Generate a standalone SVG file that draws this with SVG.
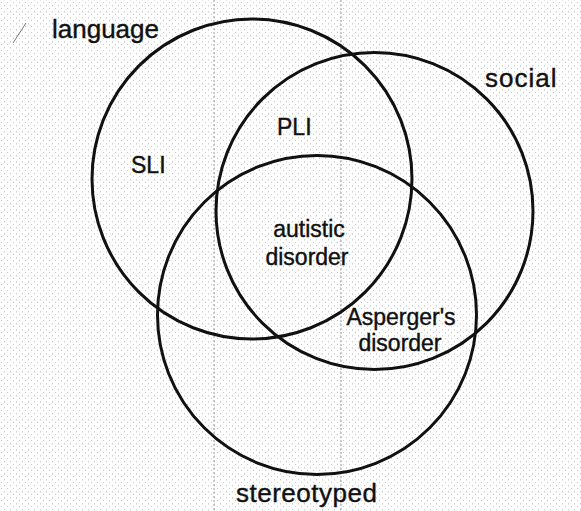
<svg xmlns="http://www.w3.org/2000/svg" width="581" height="511" viewBox="0 0 581 511">
  <defs>
    <pattern id="speckle" width="6" height="6" patternUnits="userSpaceOnUse">
      <rect x="1" y="2" width="1" height="1" fill="#c4c4c4"/>
      <rect x="4" y="5" width="1" height="1" fill="#d0d0d0"/>
      <rect x="4" y="0" width="1" height="1" fill="#e0e0e0"/>
    </pattern>
    <style>
      .ring { fill: none; stroke: #111; stroke-width: 3; }
      .big { font-family: "Liberation Sans", Arial, Helvetica, sans-serif; font-size: 26px; fill: #111; stroke: #111; stroke-width: 0.4; }
      .lbl { font-family: "Liberation Sans", Arial, Helvetica, sans-serif; font-size: 23px; fill: #111; stroke: #111; stroke-width: 0.4; }
      .fold { stroke: #9a9a9a; stroke-width: 1; stroke-dasharray: 2 2; }
    </style>
  </defs>
  <rect width="581" height="511" fill="#ffffff"/>
  <rect width="581" height="511" fill="url(#speckle)"/>
  <g id="scan-marks">
    <line class="fold" x1="214" y1="0" x2="214" y2="511"/>
    <line class="fold" x1="341" y1="0" x2="341" y2="511"/>
    <line x1="26" y1="23" x2="13" y2="43" stroke="#777" stroke-width="1"/>
  </g>
  <g id="connectors"></g>
  <g id="language">
    <circle class="ring" cx="252" cy="179" r="160"/>
    <text class="big" x="52" y="38">language</text>
  </g>
  <g id="social">
    <circle class="ring" cx="374.5" cy="211" r="158.5"/>
    <text class="big" x="485" y="87" letter-spacing="1">social</text>
  </g>
  <g id="stereotyped">
    <circle class="ring" cx="317" cy="315" r="159.5"/>
    <text class="big" x="236" y="502" font-size="27" letter-spacing="0.5">stereotyped</text>
  </g>
  <g id="SLI">
    <text class="lbl" x="131" y="173">SLI</text>
  </g>
  <g id="PLI">
    <text class="lbl" x="277" y="135">PLI</text>
  </g>
  <g id="autistic-disorder">
    <text class="lbl" x="309" y="237" text-anchor="middle">autistic</text>
    <text class="lbl" x="307" y="265" text-anchor="middle">disorder</text>
  </g>
  <g id="aspergers-disorder">
    <text class="lbl" x="401" y="325" text-anchor="middle">Asperger's</text>
    <text class="lbl" x="400" y="351" text-anchor="middle" font-size="22">disorder</text>
  </g>
</svg>
